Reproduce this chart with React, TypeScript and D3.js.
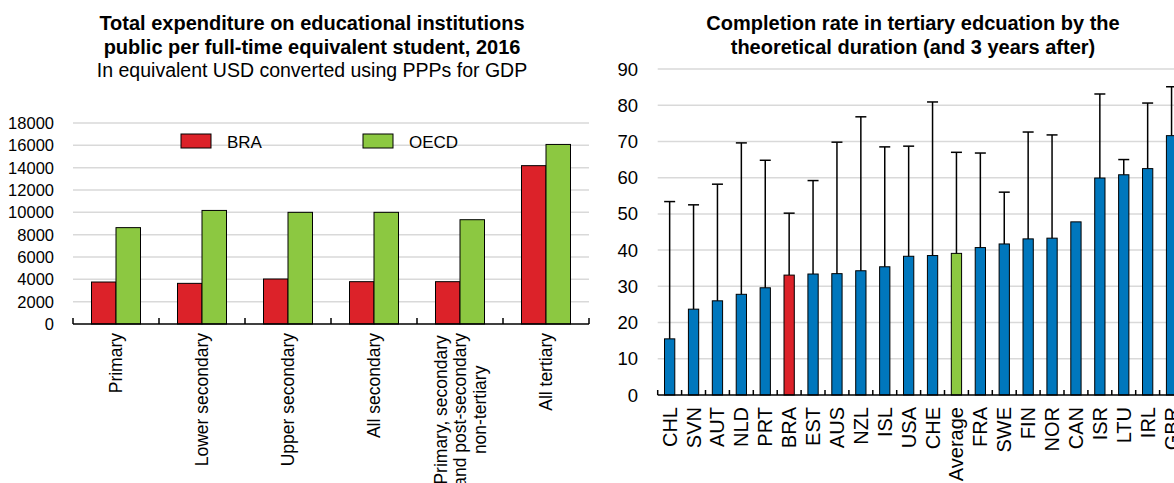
import React, { useRef, useEffect } from "react";
import * as d3 from "d3";

// left panel: spending per student, USD PPP
const levels = ["Primary", "Lower secondary", "Upper secondary", "All secondary", "Primary, secondary and post-secondary non-tertiary", "All tertiary"];
const levelLines = [["Primary"], ["Lower secondary"], ["Upper secondary"], ["All secondary"], ["Primary, secondary", "and post-secondary", "non-tertiary"], ["All tertiary"]];
const series = ["BRA", "OECD"];
const braSpend = [3760, 3640, 4030, 3790, 3790, 14180];
const oecdSpend = [8630, 10170, 10000, 10000, 9340, 16080];
const spendTicks = [0, 2000, 4000, 6000, 8000, 10000, 12000, 14000, 16000, 18000];

// right panel: completion rates
const countries = ["CHL", "SVN", "AUT", "NLD", "PRT", "BRA", "EST", "AUS", "NZL", "ISL", "USA", "CHE", "Average", "FRA", "SWE", "FIN", "NOR", "CAN", "ISR", "LTU", "IRL", "GBR"];
const completion = [15.5, 23.7, 26.0, 27.8, 29.6, 33.1, 33.4, 33.5, 34.3, 35.4, 38.3, 38.5, 39.1, 40.7, 41.7, 43.1, 43.3, 47.8, 59.9, 60.8, 62.5, 71.6];
const completionPlus3 = [53.4, 52.5, 58.2, 69.6, 64.8, 50.2, 59.2, 69.8, 76.8, 68.5, 68.7, 80.9, 67.0, 66.8, 56.0, 72.6, 71.8, null, 83.1, 65.0, 80.6, 85.1];
const rateTicks = [0, 10, 20, 30, 40, 50, 60, 70, 80, 90];

const RED = "#dc2229";
const GREEN = "#8cc841";
const BLUE = "#0077bd";
const GRID = "#d9d9d9";
const FONT = "'Liberation Sans', Arial, sans-serif";

export default function App() {
  const ref = useRef<SVGSVGElement>(null);

  useEffect(() => {
    if (!ref.current) return;
    const svg = d3.select(ref.current);
    svg.selectAll("*").remove();
    svg.style("font-family", FONT);

    // ---------- left chart ----------
    const L = svg.append("g");
    const y1 = d3.scaleLinear().domain([0, 18000]).range([324, 123]);
    const x1 = d3.scaleBand().domain(levels).range([73, 589]).padding(0);
    const inner = d3.scaleBand().domain(series).range([0, 49]);
    const off = (x1.bandwidth() - 49) / 2;

    const title1 = [
      { t: "Total expenditure on educational institutions", b: true, s: 20 },
      { t: "public per full-time equivalent student, 2016", b: true, s: 20 },
      { t: "In equivalent USD converted using PPPs for GDP", b: false, s: 19.5 },
    ];
    title1.forEach((d, i) => {
      L.append("text").attr("x", 312).attr("y", 30 + i * 23.5)
        .attr("text-anchor", "middle").attr("font-size", d.s)
        .attr("font-weight", d.b ? "bold" : "normal").text(d.t);
    });

    L.selectAll(".grid").data(spendTicks.slice(1)).enter().append("line")
      .attr("x1", 73).attr("x2", 589)
      .attr("y1", (d) => y1(d)).attr("y2", (d) => y1(d))
      .attr("stroke", GRID).attr("stroke-width", 1.5);

    L.selectAll(".ylab").data(spendTicks).enter().append("text")
      .attr("x", 54).attr("y", (d) => y1(d) + 6)
      .attr("text-anchor", "end").attr("font-size", 16.5).text((d) => d);

    const vals = [braSpend, oecdSpend];
    const cols = [RED, GREEN];
    series.forEach((s, si) => {
      L.selectAll(".bar" + si).data(levels).enter().append("rect")
        .attr("x", (d) => (x1(d) as number) + off + (inner(s) as number))
        .attr("width", inner.bandwidth())
        .attr("y", (d, i) => y1(vals[si][i]))
        .attr("height", (d, i) => y1(0) - y1(vals[si][i]))
        .attr("fill", cols[si]).attr("stroke", "#000").attr("stroke-width", 1);
    });

    L.append("line").attr("x1", 73).attr("x2", 589).attr("y1", y1(0)).attr("y2", y1(0))
      .attr("stroke", "#000").attr("stroke-width", 1.5);
    levels.concat([""]).forEach((d, i) => {
      const x = 73 + i * x1.step();
      L.append("line").attr("x1", x).attr("x2", x).attr("y1", y1(0) - 6).attr("y2", y1(0))
        .attr("stroke", "#000").attr("stroke-width", 1.5);
    });

    // legend
    series.forEach((s, i) => {
      const lx = [181, 363][i];
      L.append("rect").attr("x", lx).attr("y", 134).attr("width", 30).attr("height", 14)
        .attr("fill", cols[i]).attr("stroke", "#000").attr("stroke-width", 1);
      L.append("text").attr("x", lx + 46).attr("y", 147.5).attr("font-size", 17).text(s);
    });

    // category labels, rotated
    levels.forEach((d, i) => {
      const cx = (x1(d) as number) + x1.bandwidth() / 2;
      const lines = levelLines[i];
      const g = L.append("g");
      const n = lines.length;
      const texts = lines.map((ln, k) =>
        g.append("text").attr("font-size", 17.5).attr("text-anchor", n > 1 ? "middle" : "end")
          .attr("transform", `translate(${cx + 6 + (k - (n - 1) / 2) * 19.5},333) rotate(-90)`)
          .text(ln)
      );
      if (n > 1) {
        const maxLen = d3.max(texts, (t) => (t.node() as SVGTextElement).getComputedTextLength()) || 0;
        texts.forEach((t, k) =>
          t.attr("transform", `translate(${cx + 6 + (k - (n - 1) / 2) * 19.5},${333 + maxLen / 2}) rotate(-90)`)
        );
      }
    });

    // ---------- right chart ----------
    const R = svg.append("g");
    const y2 = d3.scaleLinear().domain([0, 90]).range([395, 69]);
    const x2 = d3.scaleBand().domain(countries).range([657.7, 657.7 + countries.length * 23.9]).paddingInner(0.57).paddingOuter(0.285);
    const right = 657.7 + countries.length * 23.9;

    ["Completion rate in tertiary edcuation by the", "theoretical duration (and 3 years after)"].forEach((t, i) => {
      R.append("text").attr("x", 913).attr("y", 30 + i * 23.5)
        .attr("text-anchor", "middle").attr("font-size", 20).attr("font-weight", "bold").text(t);
    });

    R.selectAll(".grid").data(rateTicks.slice(1)).enter().append("line")
      .attr("x1", 657.7).attr("x2", right)
      .attr("y1", (d) => y2(d)).attr("y2", (d) => y2(d))
      .attr("stroke", GRID).attr("stroke-width", 1.5);

    R.selectAll(".ylab").data(rateTicks).enter().append("text")
      .attr("x", 638).attr("y", (d) => y2(d) + 6.5)
      .attr("text-anchor", "end").attr("font-size", 18.5).text((d) => d);

    R.selectAll(".bar").data(countries).enter().append("rect")
      .attr("x", (d) => x2(d) as number)
      .attr("width", x2.bandwidth())
      .attr("y", (d, i) => y2(completion[i]))
      .attr("height", (d, i) => y2(0) - y2(completion[i]))
      .attr("fill", (d) => (d === "BRA" ? RED : d === "Average" ? GREEN : BLUE))
      .attr("stroke", "#000").attr("stroke-width", 1);

    countries.forEach((d, i) => {
      const hi = completionPlus3[i];
      if (hi == null) return;
      const cx = (x2(d) as number) + x2.bandwidth() / 2;
      R.append("line").attr("x1", cx).attr("x2", cx).attr("y1", y2(completion[i])).attr("y2", y2(hi))
        .attr("stroke", "#000").attr("stroke-width", 1.5);
      R.append("line").attr("x1", cx - 5.5).attr("x2", cx + 5.5).attr("y1", y2(hi)).attr("y2", y2(hi))
        .attr("stroke", "#000").attr("stroke-width", 1.5);
    });

    R.append("line").attr("x1", 657.7).attr("x2", right).attr("y1", y2(0)).attr("y2", y2(0))
      .attr("stroke", "#000").attr("stroke-width", 1.5);
    countries.concat([""]).forEach((d, i) => {
      const x = 657.7 + i * x2.step();
      R.append("line").attr("x1", x).attr("x2", x).attr("y1", y2(0) - 5).attr("y2", y2(0))
        .attr("stroke", "#000").attr("stroke-width", 1.5);
    });

    countries.forEach((d) => {
      const cx = (x2(d) as number) + x2.bandwidth() / 2;
      R.append("text").attr("font-size", 20).attr("text-anchor", "end")
        .attr("transform", `translate(${cx + 7},407) rotate(-90)`).text(d);
    });
  }, []);

  return (
    <svg ref={ref} width={1174} height={483}
      style={{ position: "absolute", left: 0, top: 0, background: "#fff", overflow: "hidden" }} />
  );
}
